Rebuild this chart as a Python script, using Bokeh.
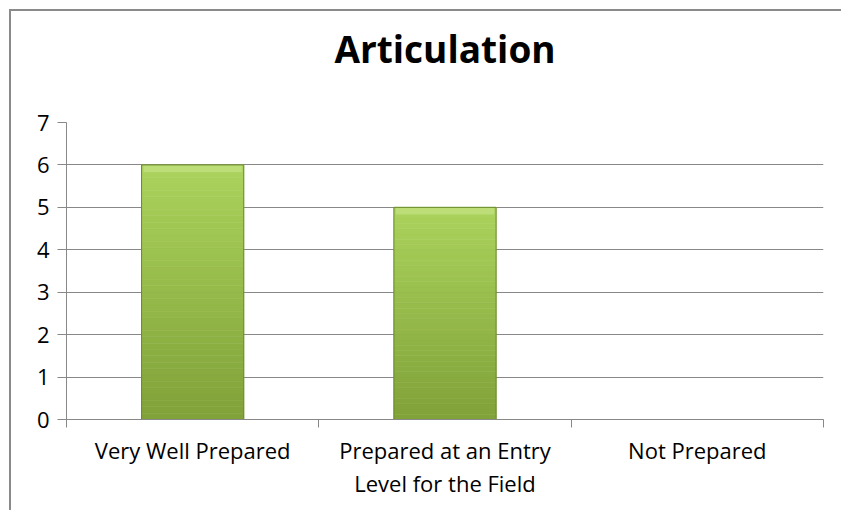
import numpy as np
from bokeh.plotting import figure
from bokeh.models import ColumnDataSource, Range1d, FixedTicker, LinearAxis
from bokeh.embed import file_html
from bokeh.resources import INLINE

# ---- data ----
categories = ["Very Well Prepared", "Prepared at an Entry\nLevel for the Field", "Not Prepared"]
values = [6, 5, 0]
y_ticks = [0, 1, 2, 3, 4, 5, 6, 7]
title_text = "Articulation"

GRID = "#888888"
FONT = "Open Sans"

xpos = np.arange(len(categories)) + 0.5

p = figure(width=832, height=501, output_backend="svg", toolbar_location=None,
           x_range=Range1d(0, len(categories)), y_range=Range1d(0, max(y_ticks)),
           min_border_left=55, min_border_right=20, min_border_top=111, min_border_bottom=93)
p.outline_line_color = None
p.background_fill_color = "white"
p.border_fill_color = "white"
p.styles = {"margin-left": "9px", "margin-top": "9px",
            "border-left": "2px solid #8a8a8a", "border-top": "2px solid #8a8a8a"}

# title drawn as the label of an otherwise empty axis above the plot area
title_axis = LinearAxis(ticker=FixedTicker(ticks=[]), axis_label=title_text,
                        axis_line_color=None, major_tick_line_color=None,
                        minor_tick_line_color=None, major_label_text_font_size="0px",
                        axis_label_text_font=FONT, axis_label_text_font_size="37px",
                        axis_label_text_font_style="bold", axis_label_text_color="black",
                        axis_label_standoff=49)
p.add_layout(title_axis, "above")

# bars: vertical gradient slices
N = 40
top_col = np.array([0xab, 0xd3, 0x5c])
bot_col = np.array([0x80, 0xa1, 0x38])
xs, bots, tops, cols = [], [], [], []
for x, v in zip(xpos, values):
    if v <= 0:
        continue
    for k in range(N):
        f = (k + 0.5) / N
        c = bot_col + (top_col - bot_col) * f
        xs.append(x)
        bots.append(v * k / N)
        tops.append(v * (k + 1) / N)
        cols.append("#%02x%02x%02x" % tuple(int(round(t)) for t in c))
src = ColumnDataSource(dict(x=xs, bottom=bots, top=tops, color=cols))
p.vbar(x="x", bottom="bottom", top="top", width=0.405, source=src,
       fill_color="color", line_color="color", line_width=0.6)

# top bevel highlight
bev = ColumnDataSource(dict(x=[x for x, v in zip(xpos, values) if v > 0],
                            top=[v for v in values if v > 0],
                            bottom=[v - 0.17 for v in values if v > 0]))
p.vbar(x="x", top="top", bottom="bottom", width=0.39, source=bev,
       fill_color="#bcdd78", line_color=None)

# bar outline
main = ColumnDataSource(dict(x=[x for x, v in zip(xpos, values) if v > 0],
                             top=[v for v in values if v > 0]))
p.vbar(x="x", top="top", bottom=0, width=0.405, source=main,
       fill_color=None, line_color="#6a8a2a", line_width=1)

# grid
p.xgrid.visible = False
p.ygrid.ticker = FixedTicker(ticks=y_ticks)
p.ygrid.grid_line_color = GRID
p.ygrid.grid_line_width = 1

# y axis
p.yaxis.ticker = FixedTicker(ticks=y_ticks, minor_ticks=[])
p.yaxis.axis_line_color = GRID
p.yaxis.major_tick_line_color = GRID
p.yaxis.major_tick_out = 9
p.yaxis.major_tick_in = 0
p.yaxis.minor_tick_line_color = None
p.yaxis.major_label_text_font = FONT
p.yaxis.major_label_text_font_size = "22px"
p.yaxis.major_label_text_color = "black"
p.yaxis.major_label_standoff = 8

# x axis: labels at centres, ticks at boundaries
xa = p.below[0]
xa.ticker = FixedTicker(ticks=list(xpos), minor_ticks=list(range(len(categories) + 1)))
xa.major_label_overrides = {float(x): c for x, c in zip(xpos, categories)}
xa.axis_line_color = GRID
xa.major_tick_line_color = None
xa.major_tick_out = 0
xa.major_tick_in = 0
xa.minor_tick_line_color = GRID
xa.minor_tick_out = 8
xa.minor_tick_in = 0
xa.major_label_text_font = FONT
xa.major_label_text_font_size = "22px"
xa.major_label_text_color = "black"
xa.major_label_text_line_height = 1.1
xa.major_label_standoff = 7

open("out.html", "w").write(file_html(p, INLINE))
